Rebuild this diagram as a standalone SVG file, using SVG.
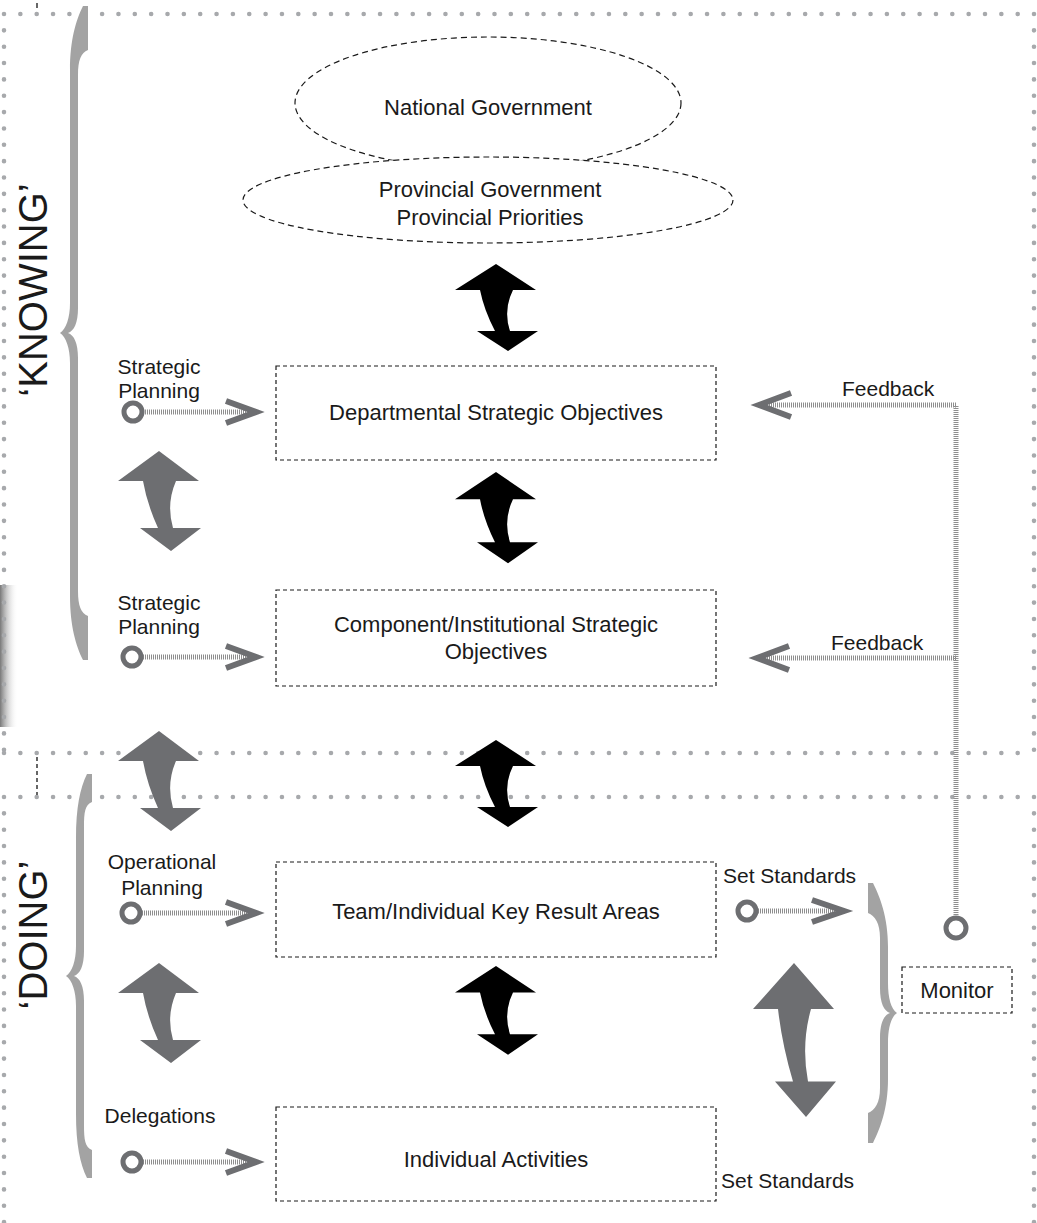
<svg xmlns="http://www.w3.org/2000/svg" width="1037" height="1223" viewBox="0 0 1037 1223">
<style>
text{font-family:"Liberation Sans",Arial,sans-serif;fill:#1a1a1a}
.lbl{font-size:21px;text-anchor:middle}
.nt{font-size:22px;text-anchor:middle}
.side{font-size:40px;text-anchor:middle}
.dots{stroke:#a7a9ac;stroke-width:4.6;stroke-linecap:round;stroke-dasharray:0 16.35;fill:none}
.box{fill:#fff;stroke:#1a1a1a;stroke-width:1.2;stroke-dasharray:4 3}
.ell{fill:#fff;stroke:#1a1a1a;stroke-width:1.2;stroke-dasharray:6 4}
.hatch{stroke:#8e8e8e;stroke-width:5;stroke-dasharray:1 1;fill:none}
.chev{fill:none;stroke:#6d6e71;stroke-width:6;stroke-linejoin:miter}
.ring{fill:#fff;stroke:#6d6e71;stroke-width:5}
.brace{fill:#a3a3a3}
.darr{fill:#000}
.garr{fill:#6d6e71}
</style>
<defs>
<path id="dbl" d="M0 0 L40 26 L17 26 Q7 46 14 67 L42 67 L12 87 L-19 67 L-1 67 Q-12 46 -16 26 L-41 26 Z"/>
<linearGradient id="shade" x1="0" y1="0" x2="1" y2="0">
<stop offset="0" stop-color="#6a6a6a" stop-opacity="0.9"/>
<stop offset="1" stop-color="#ffffff" stop-opacity="0"/>
</linearGradient>
</defs>
<rect width="1037" height="1223" fill="#fff"/>
<rect x="0" y="585" width="18" height="142" fill="url(#shade)"/>
<g id="frames">
<path class="dots" d="M4 14 H1034 M4 14 V753 M1034 14 V753 M4 753 H1034"/>
<path class="dots" d="M4 797 H1034 M4 797 V1223 M1034 797 V1223"/>
<line x1="37" y1="3" x2="37" y2="8" stroke="#000" stroke-width="1.2"/>
<line x1="37" y1="757" x2="37" y2="795" stroke="#000" stroke-width="1.2" stroke-dasharray="4 3"/>
</g>
<g id="braces">
<path class="brace" d="M 83 6 L 88 6 L 88 50 C 81 53, 78 60, 78 75 L 78 308 C 78 323, 74 331, 68 333 C 74 335, 78 343, 78 358 L 78 591 C 78 606, 81 613, 88 616 L 88 660 L 83 660 C 76 646, 70 626, 70 596 L 70 363 C 70 348, 66 337, 60 333 C 66 329, 70 318, 70 303 L 70 70 C 70 40, 76 20, 83 6 Z"/>
<path class="brace" d="M 87 774 L 92 774 L 92 802 C 85 805, 84 812, 84 827 L 84 951 C 84 966, 80 974, 74 976 C 80 978, 84 986, 84 1001 L 84 1125 C 84 1140, 85 1147, 92 1150 L 92 1178 L 87 1178 C 80 1164, 76 1144, 76 1114 L 76 1006 C 76 991, 72 980, 66 976 C 72 972, 76 961, 76 946 L 76 838 C 76 808, 80 788, 87 774 Z"/>
<path class="brace" d="M 873 883 L 868 883 L 868 913 C 875 916, 880 923, 880 938 L 880 988 C 880 1003, 884 1011, 890 1013 C 884 1015, 880 1023, 880 1038 L 880 1088 C 880 1103, 875 1110, 868 1113 L 868 1143 L 873 1143 C 880 1129, 888 1109, 888 1079 L 888 1043 C 888 1028, 891 1017, 897 1013 C 891 1009, 888 998, 888 983 L 888 947 C 888 917, 880 897, 873 883 Z"/>
<text class="side" transform="translate(47,290) rotate(-90)">‘KNOWING’</text>
<text class="side" transform="translate(47,935) rotate(-90)">‘DOING’</text>
</g>
<g id="connectors">
<use href="#dbl" class="darr" transform="translate(496,264)"/>
<use href="#dbl" class="darr" transform="translate(496,472) scale(1,1.05)"/>
<use href="#dbl" class="darr" transform="translate(496,740)"/>
<use href="#dbl" class="darr" transform="translate(496,966) scale(1,1.02)"/>
<use href="#dbl" class="garr" transform="translate(159,451) scale(1,1.15)"/>
<use href="#dbl" class="garr" transform="translate(159,731) scale(1,1.15)"/>
<use href="#dbl" class="garr" transform="translate(159,963) scale(1,1.15)"/>
<use href="#dbl" class="garr" transform="translate(794,963) scale(1,1.77)"/>
<line class="hatch" x1="143" y1="412" x2="250" y2="412"/>
<polyline class="chev" points="226,401 256,412 226,423"/>
<line class="hatch" x1="143" y1="657" x2="250" y2="657"/>
<polyline class="chev" points="226,646 256,657 226,668"/>
<line class="hatch" x1="142" y1="913" x2="250" y2="913"/>
<polyline class="chev" points="226,902 256,913 226,924"/>
<line class="hatch" x1="143" y1="1162" x2="250" y2="1162"/>
<polyline class="chev" points="226,1151 256,1162 226,1173"/>
<line class="hatch" x1="758" y1="911" x2="838" y2="911"/>
<polyline class="chev" points="812,900 844,911 812,922"/>
<path class="hatch" d="M765 405 H956 V917"/>
<polyline class="chev" points="791,393 759,405 791,417"/>
<line class="hatch" x1="763" y1="658" x2="956" y2="658"/>
<polyline class="chev" points="789,646 757,658 789,670"/>
<circle class="ring" cx="133" cy="412" r="9"/>
<circle class="ring" cx="132" cy="657" r="9"/>
<circle class="ring" cx="131" cy="913" r="9"/>
<circle class="ring" cx="132" cy="1162" r="9"/>
<circle class="ring" cx="747" cy="911" r="9"/>
<circle class="ring" cx="956" cy="928" r="10"/>
</g>
<g id="national">
<ellipse class="ell" cx="488" cy="103" rx="193" ry="66"/>
<text class="nt" x="488" y="115">National Government</text>
</g>
<g id="provincial">
<ellipse class="ell" cx="488" cy="200" rx="245" ry="43"/>
<text class="nt" x="490" y="197">Provincial Government</text>
<text class="nt" x="490" y="225">Provincial Priorities</text>
</g>
<g id="departmental">
<rect class="box" x="276" y="366" width="440" height="94"/>
<text class="nt" x="496" y="420">Departmental Strategic Objectives</text>
</g>
<g id="component">
<rect class="box" x="276" y="590" width="440" height="96"/>
<text class="nt" x="496" y="632">Component/Institutional Strategic</text>
<text class="nt" x="496" y="659">Objectives</text>
</g>
<g id="team">
<rect class="box" x="276" y="862" width="440" height="95"/>
<text class="nt" x="496" y="919">Team/Individual Key Result Areas</text>
</g>
<g id="individual">
<rect class="box" x="276" y="1107" width="440" height="94"/>
<text class="nt" x="496" y="1167">Individual Activities</text>
</g>
<g id="monitor">
<rect class="box" x="902" y="967" width="110" height="46"/>
<text class="nt" x="957" y="998">Monitor</text>
</g>
<g id="labels">
<text class="lbl" x="159" y="374">Strategic</text>
<text class="lbl" x="159" y="398">Planning</text>
<text class="lbl" x="159" y="610">Strategic</text>
<text class="lbl" x="159" y="634">Planning</text>
<text class="lbl" x="162" y="869">Operational</text>
<text class="lbl" x="162" y="895">Planning</text>
<text class="lbl" x="160" y="1123">Delegations</text>
<text x="723" y="883" font-size="21">Set Standards</text>
<text x="721" y="1188" font-size="21">Set Standards</text>
<text x="842" y="396" font-size="21">Feedback</text>
<text x="831" y="650" font-size="21">Feedback</text>
</g>
</svg>
